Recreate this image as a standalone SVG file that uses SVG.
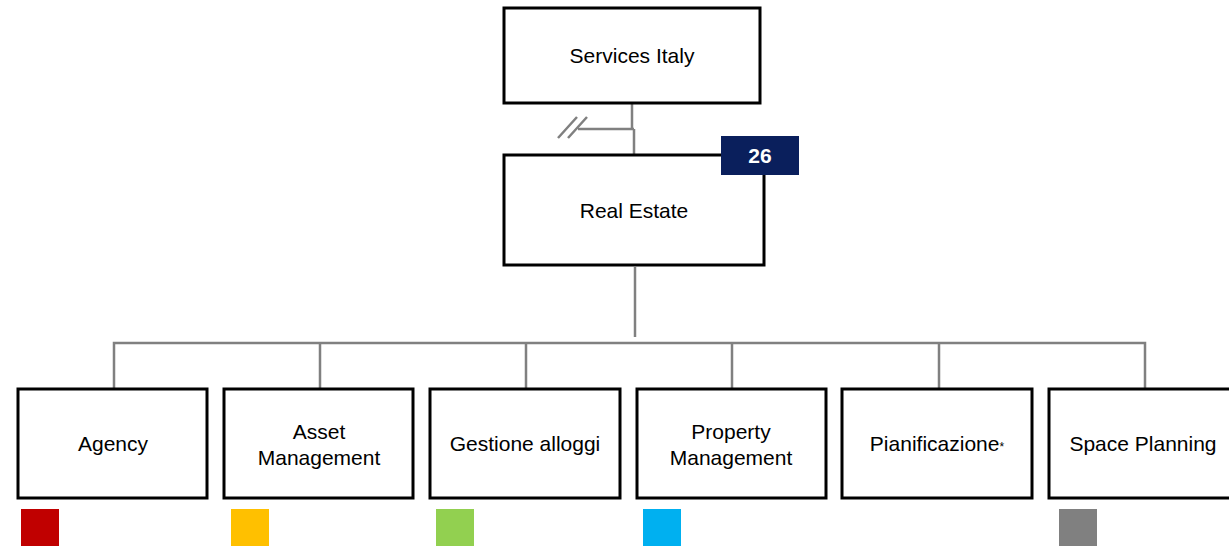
<svg xmlns="http://www.w3.org/2000/svg" width="1229" height="546" viewBox="0 0 1229 546">
  <style>
    .box { fill: #ffffff; stroke: #000000; stroke-width: 3; }
    .lbl { font-family: "Liberation Sans", Arial, sans-serif; font-size: 21px; fill: #000000; text-anchor: middle; }
    .link { fill: none; stroke: #808080; stroke-width: 2.5; }
    .badge { fill: #0a1f5c; }
    .badgeTxt { font-family: "Liberation Sans", Arial, sans-serif; font-size: 21px; font-weight: bold; fill: #ffffff; text-anchor: middle; }
  </style>
  <rect width="1229" height="546" fill="#ffffff"/>

  <!-- connectors -->
  <g id="connectors">
    <path class="link" d="M632 103 V129 M578 129 H634 M634 129 V155"/>
    <path class="link" d="M558 138 L577 117 M568 138 L587 117"/>
    <path class="link" d="M635 267 V337"/>
    <path class="link" d="M114 388 V343 H1145 V388"/>
    <path class="link" d="M320 343 V388 M526 343 V388 M732 343 V388 M939 343 V388"/>
  </g>

  <!-- top node -->
  <g id="services-italy">
    <rect class="box" x="504" y="8" width="256" height="95"/>
    <text class="lbl" x="632" y="63">Services Italy</text>
  </g>

  <g id="real-estate">
    <rect class="box" x="504" y="155" width="260" height="110"/>
    <text class="lbl" x="634" y="218">Real Estate</text>
    <rect class="badge" x="721" y="136" width="78" height="39"/>
    <text class="badgeTxt" x="760" y="163">26</text>
  </g>

  <!-- business units -->
  <g id="agency">
    <rect class="box" x="18" y="389" width="189" height="109"/>
    <text class="lbl" x="113" y="451">Agency</text>
    <rect x="21" y="509" width="38" height="37" fill="#c00000"/>
  </g>

  <g id="asset-management">
    <rect class="box" x="224" y="389" width="189" height="109"/>
    <text class="lbl" x="319" y="439">Asset</text>
    <text class="lbl" x="319" y="465">Management</text>
    <rect x="231" y="509" width="38" height="37" fill="#ffc000"/>
  </g>

  <g id="gestione-alloggi">
    <rect class="box" x="430" y="389" width="190" height="109"/>
    <text class="lbl" x="525" y="451">Gestione alloggi</text>
    <rect x="436" y="509" width="38" height="37" fill="#92d050"/>
  </g>

  <g id="property-management">
    <rect class="box" x="637" y="389" width="189" height="109"/>
    <text class="lbl" x="731" y="439">Property</text>
    <text class="lbl" x="731" y="465">Management</text>
    <rect x="643" y="509" width="38" height="37" fill="#00b0f0"/>
  </g>

  <g id="pianificazione">
    <rect class="box" x="842" y="389" width="190" height="109"/>
    <text class="lbl" x="937" y="451">Pianificazione<tspan font-size="12">*</tspan></text>
  </g>

  <g id="space-planning">
    <rect class="box" x="1049" y="389" width="189" height="109"/>
    <text class="lbl" x="1143" y="451">Space Planning</text>
    <rect x="1059" y="509" width="38" height="37" fill="#808080"/>
  </g>
</svg>
